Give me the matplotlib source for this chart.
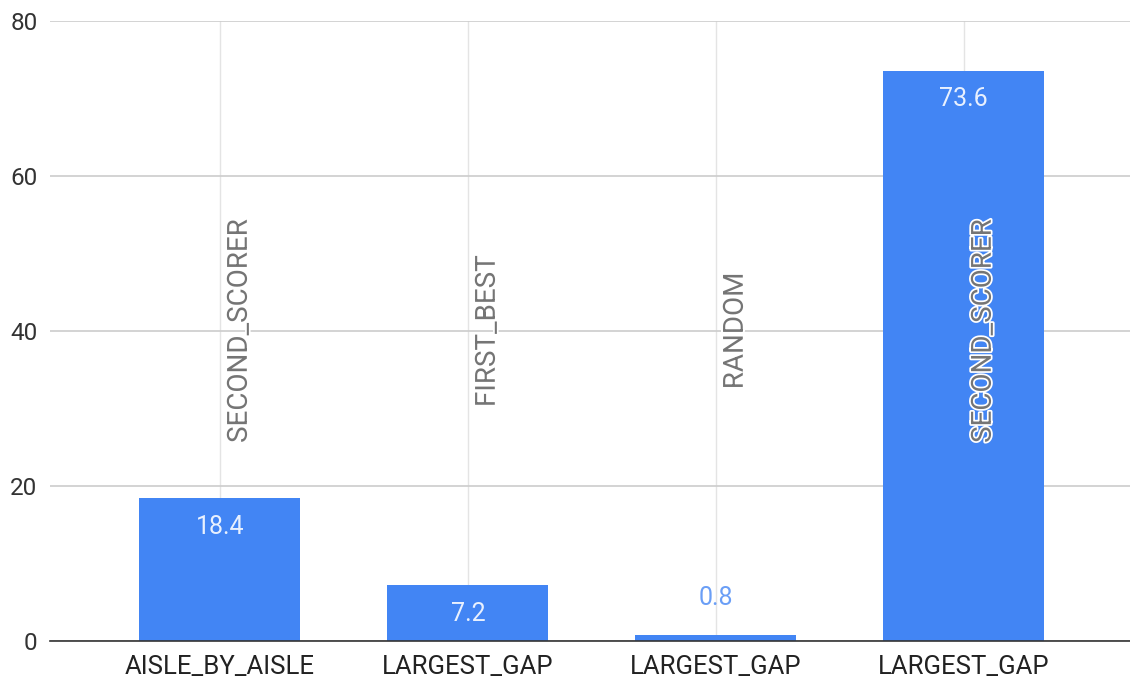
import matplotlib.pyplot as plt
import matplotlib.patheffects as pe

# outer category (x tick labels), inner group (rotated labels), value
outer = ['AISLE_BY_AISLE', 'LARGEST_GAP', 'LARGEST_GAP', 'LARGEST_GAP']
inner = ['SECOND_SCORER', 'FIRST_BEST', 'RANDOM', 'SECOND_SCORER']
values = [18.4, 7.2, 0.8, 73.6]
yticks = [0, 20, 40, 60, 80]

plt.rcParams['font.family'] = ['Roboto', 'DejaVu Sans']

fig = plt.figure(figsize=(11.3, 6.8), dpi=100)
ax = fig.add_axes([50/1130, 1 - 641/680, 1 - 50/1130, 620/680])

bar_color = '#4285f4'
x = list(range(len(values)))
bars = ax.bar(x, values, width=0.65, color=bar_color, zorder=3)

ax.set_xlim(-0.685, 3.67)
ax.set_ylim(0, 80)
ax.set_yticks(yticks)
ax.set_xticks(x)
ax.set_xticklabels(outer, fontsize=18.5, color='#222222')
ax.set_yticklabels([str(t) for t in yticks], fontsize=17.5, color='#333333')
ax.tick_params(axis='x', length=0, pad=10)
ax.tick_params(axis='y', length=0, pad=9)

ax.grid(axis='y', color='#cccccc', linewidth=1.2, zorder=0)
ax.grid(axis='x', color='#e4e4e4', linewidth=1.0, zorder=0)
for s in ['top', 'right', 'left']:
    ax.spines[s].set_visible(False)
ax.spines['bottom'].set_color('#333333')
ax.spines['bottom'].set_linewidth(1.2)
ax.spines['bottom'].set_zorder(4)

# value labels: inside the bar when it's tall enough, above it otherwise
for xi, v in zip(x, values):
    if v > 3:
        ax.annotate(f'{v}', (xi, v), xytext=(0, -12), textcoords='offset points',
                    ha='center', va='top', fontsize=18, color='#e8f0fe', zorder=5)
    else:
        ax.annotate(f'{v}', (xi, v), xytext=(0, 18), textcoords='offset points',
                    ha='center', va='bottom', fontsize=18, color='#6a9ef6', zorder=5)

# inner group names, rotated and centred at mid-height
for xi, name in zip(x, inner):
    ax.annotate(name, (xi, 40), xytext=(14, 0), textcoords='offset points',
                rotation=90, ha='center', va='center', fontsize=20,
                color='#757575', zorder=6,
                path_effects=[pe.withStroke(linewidth=2.5, foreground='white')])

fig.savefig('out.png', dpi=100)
